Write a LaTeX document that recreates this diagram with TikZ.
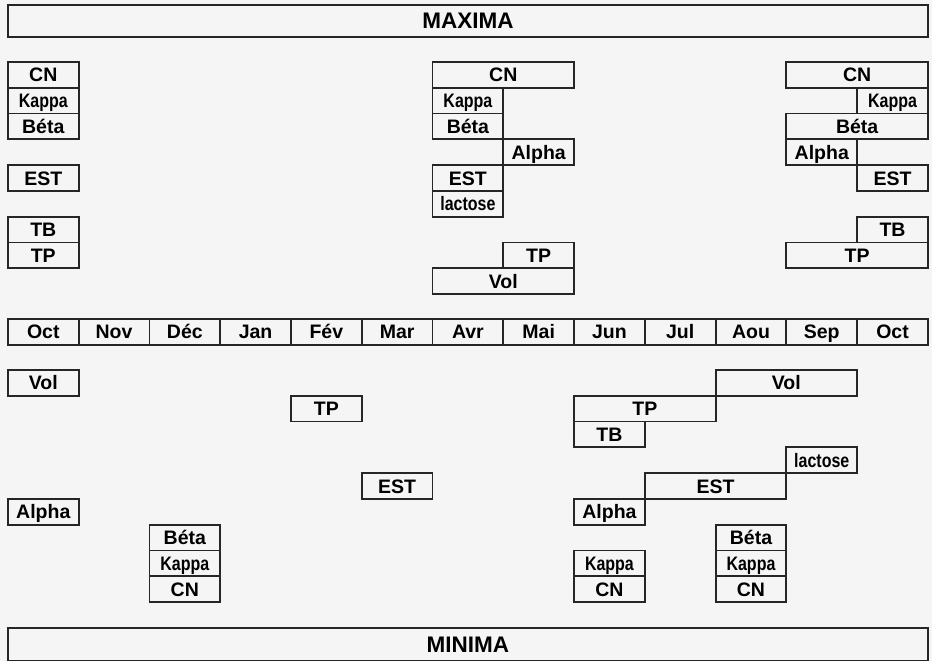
\documentclass[tikz,border=0pt]{standalone}
\usepackage{fontspec}
\setmainfont{Liberation Sans}
\begin{document}
\begin{tikzpicture}[x=1pt,y=-1pt,
  cell/.style={draw=black!85, line width=1.8pt, inner sep=0pt, anchor=north west,
    font=\bfseries\fontsize{19.5}{19.5}\selectfont, text=black,
    text height=14pt, text depth=0pt},
  band/.style={cell, font=\bfseries\fontsize{22.5}{22.5}\selectfont,
    text height=16pt}]
\def\cw{70.77}
\def\rh{25.8}
\fill[white!96!black] (0,0) rectangle (932,661);
\useasboundingbox (0,0) rectangle (932,661);
\newcommand\bx[6]{\node[cell, minimum width={#3*\cw pt}, minimum height={\rh pt}] (#1) at ({7+#2*\cw}, {#5+#4*\rh}) {#6};}
\newcommand\cz[1]{\scalebox{0.82}[1]{#1}}
% bands
\node[band, minimum width=920pt, minimum height=32pt] (maxima) at (7,4) {MAXIMA};
\node[band, minimum width=920pt, minimum height=33pt] (minima) at (7,627) {MINIMA};
% months
\foreach \m [count=\i from 0] in {Oct,Nov,Déc,Jan,Fév,Mar,Avr,Mai,Jun,Jul,Aou,Sep,Oct}{
  \node[cell, minimum width={\cw pt}, minimum height=26pt] (month\i) at ({7+\i*\cw},318) {\m};
}
% upper: left column (Oct)
\bx{uCNa}{0}{1}{0}{61}{CN}
\bx{uKAa}{0}{1}{1}{61}{\cz{Kappa}}
\bx{uBEa}{0}{1}{2}{61}{Béta}
\bx{uESTa}{0}{1}{4}{61}{EST}
\bx{uTBa}{0}{1}{6}{61}{TB}
\bx{uTPa}{0}{1}{7}{61}{TP}
% upper: middle (Avr/Mai)
\bx{uCNb}{6}{2}{0}{61}{CN}
\bx{uKAb}{6}{1}{1}{61}{\cz{Kappa}}
\bx{uBEb}{6}{1}{2}{61}{Béta}
\bx{uALb}{7}{1}{3}{61}{Alpha}
\bx{uESTb}{6}{1}{4}{61}{EST}
\bx{uLAb}{6}{1}{5}{61}{\cz{lactose}}
\bx{uTPb}{7}{1}{7}{61}{TP}
\bx{uVOb}{6}{2}{8}{61}{Vol}
% upper: right (Sep/Oct)
\bx{uCNc}{11}{2}{0}{61}{CN}
\bx{uKAc}{12}{1}{1}{61}{\cz{Kappa}}
\bx{uBEc}{11}{2}{2}{61}{Béta}
\bx{uALc}{11}{1}{3}{61}{Alpha}
\bx{uESTc}{12}{1}{4}{61}{EST}
\bx{uTBc}{12}{1}{6}{61}{TB}
\bx{uTPc}{11}{2}{7}{61}{TP}
% lower
\bx{lVOa}{0}{1}{0}{369}{Vol}
\bx{lALa}{0}{1}{5}{369}{Alpha}
\bx{lBEa}{2}{1}{6}{369}{Béta}
\bx{lKAa}{2}{1}{7}{369}{\cz{Kappa}}
\bx{lCNa}{2}{1}{8}{369}{CN}
\bx{lTPa}{4}{1}{1}{369}{TP}
\bx{lESTa}{5}{1}{4}{369}{EST}
\bx{lTPb}{8}{2}{1}{369}{TP}
\bx{lTBb}{8}{1}{2}{369}{TB}
\bx{lALb}{8}{1}{5}{369}{Alpha}
\bx{lKAb}{8}{1}{7}{369}{\cz{Kappa}}
\bx{lCNb}{8}{1}{8}{369}{CN}
\bx{lVOc}{10}{2}{0}{369}{Vol}
\bx{lLAc}{11}{1}{3}{369}{\cz{lactose}}
\bx{lESTc}{9}{2}{4}{369}{EST}
\bx{lBEc}{10}{1}{6}{369}{Béta}
\bx{lKAc}{10}{1}{7}{369}{\cz{Kappa}}
\bx{lCNc}{10}{1}{8}{369}{CN}
\end{tikzpicture}
\end{document}
